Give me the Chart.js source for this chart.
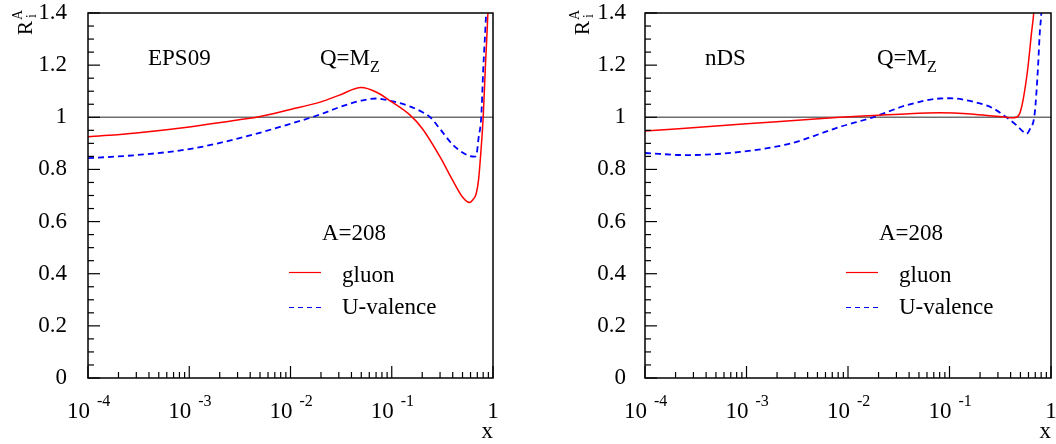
<!DOCTYPE html>
<html>
<head>
<meta charset="utf-8">
<script src="https://cdn.jsdelivr.net/npm/chart.js@4.4.0/dist/chart.umd.min.js"></script>
<style>
  body { margin: 0; background: #fff; }
  #wrap { position: relative; width: 1056px; height: 444px; }
  canvas { position: absolute; top: 0; }
</style>
</head>
<body>
<div id="wrap">
  <canvas id="eps09" width="528" height="444" style="left:0"></canvas>
  <canvas id="nds" width="528" height="444" style="left:528px"></canvas>
</div>
<script>
// nuclear modification R_i^A(x) at Q = M_Z, Pb (A=208)
const eps09GluonX = [1e-4, 3e-4, 1e-3, 3e-3, 0.0046, 0.01, 0.02, 0.03, 0.05, 0.07, 0.1, 0.15, 0.2, 0.3, 0.4, 0.5, 0.585, 0.63, 0.68, 0.72, 0.76, 0.8, 0.84, 0.89, 0.95];
const eps09GluonR = [0.925, 0.94, 0.963, 0.99, 1.0, 1.03, 1.059, 1.084, 1.114, 1.097, 1.059, 1.01, 0.957, 0.848, 0.758, 0.694, 0.673, 0.683, 0.705, 0.76, 0.87, 1.0, 1.19, 1.4, 1.75];

const eps09UvalX = [1e-4, 3e-4, 1e-3, 3e-3, 0.01, 0.02, 0.03, 0.05, 0.07, 0.1, 0.15, 0.2, 0.24, 0.3, 0.4, 0.5, 0.58, 0.66, 0.69, 0.72, 0.765, 0.8, 0.855, 0.92];
const eps09UvalR = [0.843, 0.855, 0.878, 0.918, 0.975, 1.012, 1.038, 1.064, 1.072, 1.062, 1.042, 1.02, 1.0, 0.955, 0.895, 0.865, 0.852, 0.849, 0.86, 0.92, 1.0, 1.18, 1.4, 1.75];

const ndsGluonX = [1e-4, 1e-3, 0.0083, 0.02, 0.04, 0.08, 0.15, 0.25, 0.36, 0.42, 0.456, 0.49, 0.53, 0.593, 0.641, 0.676, 0.72];
const ndsGluonR = [0.947, 0.975, 1.0, 1.008, 1.014, 1.017, 1.014, 1.006, 1.0, 0.998, 1.0, 1.013, 1.065, 1.193, 1.32, 1.4, 1.55];

const ndsUvalX = [1e-4, 2.6e-4, 8.6e-4, 2.67e-3, 0.0083, 0.0176, 0.0376, 0.08, 0.1, 0.136, 0.2, 0.27, 0.363, 0.456, 0.52, 0.573, 0.62, 0.69, 0.745, 0.774, 0.803, 0.85];
const ndsUvalR = [0.863, 0.855, 0.867, 0.899, 0.963, 1.0, 1.046, 1.072, 1.073, 1.068, 1.053, 1.034, 1.0, 0.97, 0.948, 0.937, 0.955, 1.013, 1.193, 1.32, 1.4, 1.6];

const seriesNames = ['gluon', 'U-valence'];
const xDecades = [-4, -3, -2, -1, 0];
const yMin = 0, yMax = 1.4, yStep = 0.2, yMinorStep = 0.05;
const nucleusLabel = 'A=208';

const FONT = '"Liberation Serif", "Times New Roman", serif';

const toPoints = (xs, ys) => xs.map((v, i) => ({ x: v, y: ys[i] }));

const font = (size) => `${size}px ${FONT}`;

// frame, inward ticks, x labels and in-plot texts
const panelDecor = {
  id: 'panelDecor',
  afterDatasetsDraw(chart, args, opts) {
    const { ctx, chartArea: a } = chart;
    const xs = chart.scales.x, ys = chart.scales.y;
    ctx.save();
    ctx.strokeStyle = '#000';
    ctx.fillStyle = '#000';

    // y ticks on the left edge
    ctx.lineWidth = 1.2;
    const nMinor = Math.round((yMax - yMin) / yMinorStep);
    const perMajor = Math.round(yStep / yMinorStep);
    for (let i = 0; i <= nMinor; i++) {
      const py = ys.getPixelForValue(yMin + i * yMinorStep);
      const len = i % perMajor === 0 ? 12 : 6;
      ctx.beginPath();
      ctx.moveTo(a.left, py);
      ctx.lineTo(a.left + len, py);
      ctx.stroke();
    }

    // x ticks along the bottom (log scale)
    xDecades.forEach(d => {
      for (let m = 1; m <= 9; m++) {
        const v = m * Math.pow(10, d);
        if (v > 1.0000001) break;
        const px = xs.getPixelForValue(v);
        const len = m === 1 ? 12 : 6;
        ctx.beginPath();
        ctx.moveTo(px, a.bottom);
        ctx.lineTo(px, a.bottom - len);
        ctx.stroke();
      }
    });

    // frame
    ctx.lineWidth = 1.5;
    ctx.strokeRect(a.left, a.top, a.right - a.left, a.bottom - a.top);

    // x tick labels: 10^n
    ctx.textBaseline = 'alphabetic';
    xDecades.forEach(d => {
      const px = xs.getPixelForValue(Math.pow(10, d));
      if (d === 0) {
        ctx.font = font(23);
        ctx.textAlign = 'center';
        ctx.fillText('1', px, 418);
      } else {
        ctx.font = font(23);
        ctx.textAlign = 'right';
        ctx.fillText('10', px + 2, 418);
        ctx.font = font(16);
        ctx.textAlign = 'left';
        ctx.fillText(String(d), px + 9, 406);
      }
    });

    // axis titles
    ctx.font = font(23);
    ctx.textAlign = 'right';
    ctx.fillText('x', a.right, 438);

    ctx.save();
    ctx.translate(a.left - 56, 35);
    ctx.rotate(-Math.PI / 2);
    ctx.textAlign = 'left';
    ctx.font = font(21);
    ctx.fillText('R', 0, 0);
    const rw = ctx.measureText('R').width;
    ctx.font = font(14);
    ctx.fillText('A', rw + 1, -10);
    ctx.fillText('i', rw + 3, 4);
    ctx.restore();

    // model name and scale
    ctx.textAlign = 'left';
    ctx.font = font(23);
    ctx.fillText(opts.model, a.left + 60, 65);
    ctx.fillText('Q=M', a.left + 232, 65);
    const qw = ctx.measureText('Q=M').width;
    ctx.font = font(16);
    ctx.fillText('Z', a.left + 232 + qw, 72);

    // nucleus + legend
    ctx.font = font(23);
    ctx.fillText(nucleusLabel, a.left + 234, 240);
    const rows = [[272.5, 282], [307.5, 314]];
    chart.data.datasets.slice(0, 2).forEach((ds, i) => {
      const [ly, ty] = rows[i];
      ctx.strokeStyle = ds.borderColor;
      ctx.lineWidth = 1.2;
      ctx.setLineDash(ds.borderDash && ds.borderDash.length ? [5, 4] : []);
      ctx.beginPath();
      ctx.moveTo(a.left + 201, ly);
      ctx.lineTo(a.left + 233, ly);
      ctx.stroke();
      ctx.setLineDash([]);
      ctx.fillText(ds.label, a.left + 254, ty);
    });
    ctx.restore();
  }
};

function makePanel(id, model, gx, gy, ux, uy, axisWidth, rightPad, labelPad) {
  return new Chart(document.getElementById(id), {
    type: 'scatter',
    data: {
      datasets: [
        {
          label: seriesNames[0],
          data: toPoints(gx, gy),
          showLine: true,
          borderColor: '#ff0000',
          borderWidth: 1.5,
          pointRadius: 0,
          cubicInterpolationMode: 'monotone',
          order: 1
        },
        {
          label: seriesNames[1],
          data: toPoints(ux, uy),
          showLine: true,
          borderColor: '#0000ff',
          borderWidth: 1.8,
          borderDash: [6, 4],
          pointRadius: 0,
          cubicInterpolationMode: 'monotone',
          order: 2
        },
        {
          label: 'unity',
          data: [{ x: 1e-4, y: 1 }, { x: 1, y: 1 }],
          showLine: true,
          borderColor: '#6e6e6e',
          borderWidth: 1.5,
          pointRadius: 0,
          order: 3
        }
      ]
    },
    options: {
      responsive: false,
      animation: false,
      devicePixelRatio: 1,
      layout: { padding: { top: 13, right: rightPad, left: 0, bottom: 0 } },
      plugins: {
        legend: { display: false },
        tooltip: { enabled: false },
        panelDecor: { model: model }
      },
      scales: {
        x: {
          type: 'logarithmic',
          min: 1e-4,
          max: 1,
          grid: { display: false },
          border: { display: false },
          ticks: { display: false },
          afterFit: s => {
            s.height = 66;
            s.paddingLeft = 0; s.paddingRight = 0;
          }
        },
        y: {
          min: yMin,
          max: yMax,
          grid: { display: false, drawTicks: false },
          border: { display: false },
          ticks: {
            stepSize: yStep,
            padding: labelPad,
            color: '#000',
            font: { family: FONT, size: 23, lineHeight: 1 },
            callback: v => String(+v.toFixed(2))
          },
          afterFit: s => {
            s.width = axisWidth;
            s.paddingTop = 0; s.paddingBottom = 0;
          }
        }
      }
    },
    plugins: [panelDecor]
  });
}

makePanel('eps09', 'EPS09', eps09GluonX, eps09GluonR, eps09UvalX, eps09UvalR, 88, 35, 21);
makePanel('nds', 'nDS', ndsGluonX, ndsGluonR, ndsUvalX, ndsUvalR, 117, 5, 19);
</script>
</body>
</html>
